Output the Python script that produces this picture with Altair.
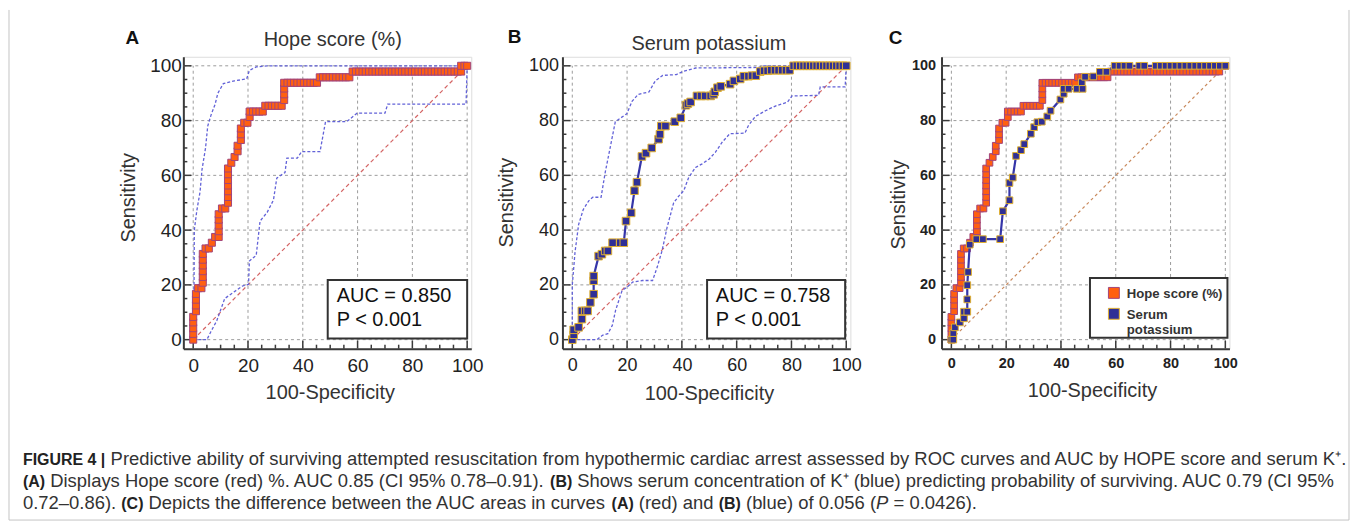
import altair as alt
import pandas as pd

FONT = "Liberation Sans, Arial, Helvetica, sans-serif"

# ---------------- data ----------------
grid_vals = [0, 20, 40, 60, 80, 100]
minor_vals = [5, 10, 15, 25, 30, 35, 45, 50, 55, 65, 70, 75, 85, 90, 95]
diag_vals = [0, 100]

# Hope score ROC (panels A and C)
hope_x = [0, 0, 0, 0, 0,
          1, 1, 1, 1,
          1.8, 3,
          3.5, 3.5, 3.5, 3.5, 3.5, 3.5,
          4.5, 5.7,
          6.8, 8,
          9.3, 9.3, 9.3, 9.3, 9.3,
          10.5, 11.7,
          12.7, 12.7, 12.7, 12.7, 12.7, 12.7, 12.7,
          13.9, 15.1,
          16.2, 16.2,
          17.4, 17.4, 17.4,
          18.6, 19.8,
          20.6, 20.6,
          21.8, 23, 24.2, 25.4,
          26.3, 27.5, 28.7, 29.9, 31.1, 32.3,
          33.2, 33.2, 33.2, 33.2,
          34.4, 35.6, 36.8, 38, 39.2, 40.4, 41.6, 42.8, 44, 45.2,
          46.2, 47.4, 48.6, 49.8, 51, 52.2, 53.4, 54.6, 55.8, 57,
          58.2, 59.4, 60.6, 61.8, 63, 64.2, 65.4, 66.6, 67.8, 69, 70.2, 71.4,
          72.6, 73.8, 75, 76.2, 77.4, 78.6, 79.8, 81, 82.2, 83.4, 84.6, 85.8,
          87, 88.2, 89.4, 90.6, 91.8, 93, 94.2, 95.4, 96.6, 97.8,
          97.8, 99, 100]
hope_y = [0, 2.1, 4.2, 6.3, 8.3,
          10.4, 12.5, 14.6, 16.7,
          18.8, 18.8,
          20.8, 22.9, 25, 27.1, 29.2, 31.3,
          33.3, 33.3,
          35.4, 37.5,
          37.5, 39.6, 41.7, 43.8, 45.8,
          47.9, 47.9,
          50, 52.1, 54.2, 56.3, 58.3, 60.4, 62.5,
          64.6, 66.7,
          68.8, 70.8,
          72.9, 75, 77.1,
          79.2, 79.2,
          81.3, 83.3,
          83.3, 83.3, 83.3, 83.3,
          85.4, 85.4, 85.4, 85.4, 85.4, 85.4,
          87.5, 89.6, 91.7, 93.8,
          93.8, 93.8, 93.8, 93.8, 93.8, 93.8, 93.8, 93.8, 93.8, 93.8,
          95.8, 95.8, 95.8, 95.8, 95.8, 95.8, 95.8, 95.8, 95.8, 95.8,
          97.9, 97.9, 97.9, 97.9, 97.9, 97.9, 97.9, 97.9, 97.9, 97.9, 97.9, 97.9,
          97.9, 97.9, 97.9, 97.9, 97.9, 97.9, 97.9, 97.9, 97.9, 97.9, 97.9, 97.9,
          97.9, 97.9, 97.9, 97.9, 97.9, 97.9, 97.9, 97.9, 97.9, 97.9,
          100, 100, 100]

# Serum potassium ROC (panel B)
kb_x = [0, 0.5, 0.5, 2.3, 3.5, 3.5, 4.7, 5.6, 6.6, 7.8, 7.8, 7.8, 9.6, 10.8, 12, 13,
        14.7, 17.5, 18.8, 19.6, 21.5, 22.7, 23.6, 25.4, 26.9, 29, 31.5, 32, 32.5, 34,
        37.4, 39.6, 41.5, 42.2, 43.2, 45.5, 47, 48.5, 50.5, 51.6, 52, 53, 54.2, 57.6,
        59, 61.3, 62.6, 64.3, 65.6, 67, 68.6, 70, 71.3, 72.6, 74, 75.3, 76.6, 78, 79.3,
        80.8, 82, 83.2, 84.4, 85.6, 86.8, 88, 89.2, 90.4, 91.6, 92.8, 94, 95.2, 96.4,
        97.6, 98.8, 100]
kb_y = [0, 1.8, 3.6, 4.5, 7.5, 10.5, 10.5, 10.5, 13.6, 16.6, 21.5, 23.2, 30.5, 31.2, 32.4, 32.4,
        35.4, 35.4, 35.4, 43.3, 46.3, 54.4, 57.5, 66.9, 68.1, 70, 73.2, 75, 78, 78,
        79.6, 81, 85.6, 86.2, 86.8, 89, 89, 89, 89, 89.6, 90.5, 92, 92.5, 93.3,
        94.5, 95.2, 96.2, 96.2, 96.4, 96.4, 97.9, 98.2, 98.2, 98.4, 98.4, 98.4, 98.4, 98.4, 98.4,
        100, 100, 100, 100, 100, 100, 100, 100, 100, 100, 100, 100, 100, 100,
        100, 100, 100]

# Serum potassium ROC (panel C)
kc_x = [0, 0.7, 0.7, 1.3, 3.1, 4.6, 4.6, 5.8, 5.8, 5.8, 6.1, 6.7, 9.1, 11.5, 17.8,
        18.8, 21.2, 21.2, 22.4, 23.6, 25.4, 26.6, 29, 30.2, 31.4, 33, 35, 36.2,
        39.8, 41, 41, 42.8, 45.8, 47.9, 47.6, 48.8, 51.8, 54.2, 56.6, 59.6,
        61.4, 63.2, 65, 68.6, 70.4, 74.6, 76.4, 78.2, 80, 81.8, 83.6, 85.4, 87.2,
        89, 90.8, 92.6, 94.4, 96.2, 98, 100]
kc_y = [0, 0, 2.4, 4.5, 6.3, 7.8, 10.2, 10.2, 14.7, 19.9, 24.7, 34.7, 36.7, 36.7, 36.7,
        46.9, 50.9, 57.2, 59.2, 67.1, 69.2, 71.4, 75.2, 77.6, 79.4, 79.6, 81.5, 83.6,
        87.7, 89.8, 91.6, 91.6, 91.6, 91.6, 94, 96, 96.1, 97.8, 97.8, 100,
        100, 100, 100, 100, 100, 100, 100, 100, 100, 100, 100, 100, 100,
        100, 100, 100, 100, 100, 100, 100]

# 95% confidence bounds, panel A
a_up_x = [0, 0.3, 0.4, 1.3, 2.5, 3.2, 4.5, 5.3, 6.5, 8, 9, 11, 15, 19.5, 20.5, 23, 27, 100]
a_up_y = [0, 20, 40, 47, 54, 62, 70, 78, 82, 86, 90, 93.5, 94.5, 95.2, 98.3, 99.6, 100, 100]
a_lo_x = [0, 5, 6.5, 8.6, 11.5, 15, 18, 20.2, 20.5, 23, 24.4, 27, 29.3, 30.5, 33.5, 34.2,
          38, 39.6, 46.3, 48.3, 56, 59.8, 70, 71, 99.6, 100]
a_lo_y = [0, 0, 3, 6.9, 15, 17.5, 19.6, 20.2, 28.7, 30.8, 43.3, 46.5, 51, 59, 61, 66.3,
          66.3, 68.7, 68.7, 79.6, 79.6, 82.7, 82.7, 86, 86, 100]

# 95% confidence bounds, panel B
b_up_x = [0, 0, 1, 2.3, 4, 6, 7.5, 10.5, 12, 14, 15.7, 19.9, 21.8, 24, 28, 30.3, 33,
          38, 40.5, 45, 68, 70, 100]
b_up_y = [0, 20, 32, 42, 47.5, 50.7, 52, 52, 61, 71, 79.6, 82.5, 87, 89.5, 90.5, 94.5,
          96.5, 96.8, 98, 99.2, 99.4, 100, 100]
b_lo_x = [0, 9, 11, 13, 14.6, 15.8, 18.2, 20, 22, 25.5, 29.3, 31, 32.8, 34.6, 37, 39,
          40.7, 42.5, 45, 47.4, 50, 52.2, 54.7, 57.5, 63, 64.3, 66.8, 70.5, 74.3, 78.5,
          80.2, 89.9, 90.5, 99.6, 100]
b_lo_y = [0, 0, 1.6, 2.2, 5.2, 10.7, 18, 19.2, 21, 21.6, 21.6, 26.5, 32.6, 41, 50, 52.6,
          54.4, 59.3, 62.9, 64.2, 66, 68.4, 72.1, 75.2, 75.4, 78.2, 81.5, 83.6, 85.4, 86.7,
          89, 89.2, 92.3, 92.3, 100]

panel_titles = ["Hope score (%)", "Serum potassium"]
panel_letters = ["A", "B", "C"]
auc_a = ["AUC = 0.850", "P < 0.001"]
auc_b = ["AUC = 0.758", "P < 0.001"]
legend_labels = ["Hope score (%)", "Serum", "potassium"]

# caption lines: list of (style, text) runs
caption_lines = [
    [("b", "FIGURE 4 |"),
     ("n", "Predictive ability of surviving attempted resuscitation from hypothermic cardiac arrest assessed by ROC curves and AUC by HOPE score and serum K\u207a.")],
    [("b", "(A)"), ("n", "Displays Hope score (red) %. AUC 0.85 (CI 95% 0.78\u20130.91)."),
     ("b", "(B)"), ("n", "Shows serum concentration of K\u207a (blue) predicting probability of surviving. AUC 0.79 (CI 95%")],
    [("n", "0.72\u20130.86)."), ("b", "(C)"), ("n", "Depicts the difference between the AUC areas in curves"),
     ("b", "(A)"), ("n", "(red) and"), ("b", "(B)"), ("n", "(blue) of 0.056 ("), ("i", "P"),
     ("n", "= 0.0426).")],
]
caption_baselines = [465, 487, 509]

# ---------------- layout constants ----------------
W, H = 289, 293
VIEW_LEFT, VIEW_TOP = 183, 55          # page position of panel A's plot area
XMIN, XMAX = -3.6, 101.5
YMIN, YMAX = -3.3, 103.3
XS = alt.Scale(domain=[XMIN, XMAX], nice=False, zero=False)
YS = alt.Scale(domain=[YMIN, YMAX], nice=False, zero=False)

ORANGE = "#ff5f10"
ORANGE_EDGE = "#a3447a"
NAVY = "#2f2f96"
NAVY_EDGE = "#e0b030"
NAVY_LINE = "#3535a8"
CI_BLUE = "#6262d8"
AXIS_DARK = "#3a3a3a"
CAP_N = 18.5    # normal caption size
CAP_B = 16.0    # bold caption size

# Arial / Liberation Sans advance widths (per 1000 em) for laying out caption runs
_W_N = {" ": 278, "(": 333, ")": 333, ".": 278, ",": 278, "%": 889, "=": 584, "-": 333,
        "\u2013": 556, "|": 260, "\u207a": 400}
_W_N.update({c: 556 for c in "0123456789"})
_W_N.update(dict(zip("ABCDEFGHIJKLMNOPQRSTUVWXYZ",
                     [667, 667, 722, 722, 667, 611, 778, 722, 278, 500, 667, 556, 833, 722, 778,
                      667, 778, 722, 667, 611, 722, 667, 944, 667, 667, 611])))
_W_N.update(dict(zip("abcdefghijklmnopqrstuvwxyz",
                     [556, 556, 500, 556, 556, 278, 556, 556, 222, 222, 500, 222, 833, 556, 556,
                      556, 556, 333, 500, 278, 556, 500, 722, 500, 500, 500])))
_W_B = {" ": 278, "(": 333, ")": 333, "|": 280, "4": 556, "A": 722, "B": 722, "C": 722,
        "E": 667, "F": 611, "G": 778, "I": 278, "R": 722, "U": 722}


def text_w(s, style):
    table = _W_B if style == "b" else _W_N
    size = CAP_B if style == "b" else CAP_N
    return sum(table.get(c, 556) for c in s) / 1000.0 * size


def caption_segments():
    segs = []
    for li, runs in enumerate(caption_lines):
        x = 22.0
        for ri, (st, tx) in enumerate(runs):
            if li == 0 and ri == 1:
                x = 110.0
            segs.append((st, tx, x, caption_baselines[li]))
            x += text_w(tx, st)
            nxt = runs[ri + 1] if ri + 1 < len(runs) else None
            if nxt is not None and not (st == "n" and tx.endswith("(")):
                x += 0.278 * CAP_N
    return segs


def caption_layers():
    frame = pd.DataFrame({"k": [0]})
    fstyle = dict(color="#c4c4c4", strokeWidth=1)
    l, r, t, b = 8 - VIEW_LEFT, 1353 - VIEW_LEFT, 8 - VIEW_TOP, 520 - VIEW_TOP
    out = [
        alt.Chart(frame).mark_rule(**fstyle).encode(x=alt.value(l), y=alt.value(t), y2=alt.value(b)),
        alt.Chart(frame).mark_rule(**fstyle).encode(x=alt.value(r), y=alt.value(t), y2=alt.value(b)),
        alt.Chart(frame).mark_rule(**fstyle).encode(x=alt.value(l), x2=alt.value(r), y=alt.value(b)),
    ]
    for st, tx, x, y in caption_segments():
        kw = dict(fontSize=CAP_N, color="#333")
        if st == "b":
            kw = dict(fontSize=CAP_B, fontWeight="bold", color="#222")
        elif st == "i":
            kw = dict(fontSize=CAP_N, fontStyle="italic", color="#333")
        out.append(alt.Chart(pd.DataFrame({"t": [tx]})).mark_text(
            align="left", baseline="alphabetic", font=FONT, **kw).encode(
            x=alt.value(x - VIEW_LEFT), y=alt.value(y - VIEW_TOP), text="t:N"))
    return out


def make_panel(rocs, cis, diag_color, diag_dash, label_size, label_weight, label_pad_y,
               ytitle_x, ytitle_y, xtitle_x, xtitle_y, xlabel_pad, letter, letter_xy,
               sq_size, title=None, title_xy=None, auc=None, auc_box=None, legend=False,
               extra=None):
    x_axis = alt.Axis(values=grid_vals, title="100-Specificity", grid=False, ticks=False,
                      tickSize=0, domainColor=AXIS_DARK, domainWidth=2,
                      labelFont=FONT, labelFontSize=label_size, labelFontWeight=label_weight,
                      labelColor="#222", labelPadding=xlabel_pad, labelFlush=False,
                      labelOverlap=False, titleFont=FONT, titleFontSize=20,
                      titleFontWeight="normal", titleColor="#333", titleX=xtitle_x,
                      titleY=xtitle_y, titleAlign="center", titleBaseline="alphabetic")
    y_axis = alt.Axis(values=grid_vals, title="Sensitivity", grid=False, ticks=False,
                      tickSize=0, domainColor=AXIS_DARK, domainWidth=2,
                      labelFont=FONT, labelFontSize=label_size, labelFontWeight=label_weight,
                      labelColor="#222", labelPadding=label_pad_y, labelFlush=False,
                      labelOverlap=False, titleFont=FONT, titleFontSize=20,
                      titleFontWeight="normal", titleColor="#333", titleX=ytitle_x,
                      titleY=ytitle_y, titleAngle=270, titleAlign="center",
                      titleBaseline="middle")

    def X(f):
        return alt.X(f, scale=XS, axis=x_axis)

    def Y(f):
        return alt.Y(f, scale=YS, axis=y_axis)

    vgrid = pd.DataFrame({"g": grid_vals, "lo": [YMIN] * len(grid_vals), "hi": [100] * len(grid_vals)})
    hgrid = pd.DataFrame({"g": grid_vals, "lo": [XMIN] * len(grid_vals), "hi": [100] * len(grid_vals)})
    gstyle = dict(color="#9c9c9c", strokeDash=[3, 3], strokeWidth=1)
    layers = [
        alt.Chart(vgrid).mark_rule(**gstyle).encode(x=X("g:Q"), y=Y("lo:Q"), y2="hi:Q"),
        alt.Chart(hgrid).mark_rule(**gstyle).encode(y=Y("g:Q"), x=X("lo:Q"), x2="hi:Q"),
    ]
    tk = dict(color=AXIS_DARK, strokeWidth=1.5)
    major = pd.DataFrame({"v": grid_vals})
    minor = pd.DataFrame({"v": minor_vals})
    layers += [
        alt.Chart(major).mark_rule(**tk).encode(y=Y("v:Q"), x=alt.value(0), x2=alt.value(8)),
        alt.Chart(minor).mark_rule(**tk).encode(y=Y("v:Q"), x=alt.value(0), x2=alt.value(4)),
        alt.Chart(major).mark_rule(**tk).encode(x=X("v:Q"), y=alt.value(H), y2=alt.value(H - 8)),
        alt.Chart(minor).mark_rule(**tk).encode(x=X("v:Q"), y=alt.value(H), y2=alt.value(H - 4)),
    ]
    ddf = pd.DataFrame({"d": diag_vals})
    layers.append(alt.Chart(ddf).mark_line(color=diag_color, strokeDash=diag_dash,
                                           strokeWidth=1.2).encode(x=X("d:Q"), y=Y("d:Q")))
    for cx, cy in cis:
        cdf = pd.DataFrame({"x": cx, "y": cy, "i": list(range(len(cx)))})
        layers.append(alt.Chart(cdf).mark_line(color=CI_BLUE, strokeDash=[3, 2],
                                               strokeWidth=1.3).encode(
            x=X("x:Q"), y=Y("y:Q"), order="i:Q"))
    for (rx, ry, fill, edge, line) in rocs:
        d = pd.DataFrame({"x": rx, "y": ry, "i": list(range(len(rx)))})
        layers.append(alt.Chart(d).mark_line(color=line, strokeWidth=2.2).encode(
            x=X("x:Q"), y=Y("y:Q"), order="i:Q"))
        layers.append(alt.Chart(d).mark_square(size=sq_size, filled=True, fill=fill, stroke=edge,
                                               strokeWidth=1, opacity=1).encode(
            x=X("x:Q"), y=Y("y:Q")))
    if auc is not None:
        bx = pd.DataFrame({"x1": [auc_box[0]], "x2": [auc_box[1]], "y1": [auc_box[2]], "y2": [auc_box[3]]})
        layers.append(alt.Chart(bx).mark_rect(fill="white", stroke="#333", strokeWidth=2).encode(
            x=X("x1:Q"), x2="x2:Q", y=Y("y1:Q"), y2="y2:Q"))
        tdf = pd.DataFrame({"t": auc, "tx": [52.4, 52.4], "ty": [13.6, 5.1]})
        layers.append(alt.Chart(tdf).mark_text(align="left", baseline="alphabetic", font=FONT,
                                               fontSize=20, color="#111").encode(
            x=X("tx:Q"), y=Y("ty:Q"), text="t:N"))
    if legend:
        layers.append(alt.Chart(pd.DataFrame({"k": [0]})).mark_rect(
            fill="white", stroke="#333", strokeWidth=2).encode(
            x=alt.value(149), x2=alt.value(287), y=alt.value(222), y2=alt.value(282)))
        for fill, edge, py in [(ORANGE, ORANGE_EDGE, 237), (NAVY, NAVY_EDGE, 258)]:
            layers.append(alt.Chart(pd.DataFrame({"k": [0]})).mark_square(
                size=120, filled=True, fill=fill, stroke=edge, strokeWidth=1, opacity=1).encode(
                x=alt.value(173), y=alt.value(py)))
        for lab, py in zip(legend_labels, [242, 263, 278]):
            layers.append(alt.Chart(pd.DataFrame({"t": [lab]})).mark_text(
                align="left", baseline="alphabetic", font=FONT, fontSize=13.2,
                fontWeight="bold", color="#333").encode(
                x=alt.value(186), y=alt.value(py), text="t:N"))
    if title is not None:
        layers.append(alt.Chart(pd.DataFrame({"t": [title]})).mark_text(
            align="center", baseline="alphabetic", font=FONT, fontSize=20, color="#333").encode(
            x=alt.value(title_xy[0]), y=alt.value(title_xy[1]), text="t:N"))
    layers.append(alt.Chart(pd.DataFrame({"t": [letter]})).mark_text(
        align="left", baseline="alphabetic", font=FONT, fontSize=19, fontWeight="bold",
        color="#111").encode(x=alt.value(letter_xy[0]), y=alt.value(letter_xy[1]), text="t:N"))
    if extra:
        layers += extra
    return alt.layer(*layers).properties(width=W, height=H)


panel_a = make_panel(
    rocs=[(hope_x, hope_y, ORANGE, ORANGE_EDGE, ORANGE)],
    cis=[(a_up_x, a_up_y), (a_lo_x, a_lo_y)],
    diag_color="#d46464", diag_dash=[4, 3], label_size=19, label_weight="normal",
    label_pad_y=2, ytitle_x=-55, ytitle_y=141, xtitle_x=147, xtitle_y=50, xlabel_pad=8,
    letter=panel_letters[0], letter_xy=(-58, -13), sq_size=50,
    title=panel_titles[0], title_xy=(150, -11),
    auc=auc_a, auc_box=(49.1, 100, 0.4, 21.8), extra=caption_layers())

panel_b = make_panel(
    rocs=[(kb_x, kb_y, NAVY, NAVY_EDGE, NAVY_LINE)],
    cis=[(b_up_x, b_up_y), (b_lo_x, b_lo_y)],
    diag_color="#d46464", diag_dash=[4, 3], label_size=18, label_weight="normal",
    label_pad_y=4, ytitle_x=-56, ytitle_y=146, xtitle_x=147, xtitle_y=51, xlabel_pad=8,
    letter=panel_letters[1], letter_xy=(-55, -14), sq_size=58,
    title=panel_titles[1], title_xy=(147, -7),
    auc=auc_b, auc_box=(49.2, 99.6, 0.4, 21.8))

panel_c = make_panel(
    rocs=[(hope_x, hope_y, ORANGE, ORANGE_EDGE, ORANGE), (kc_x, kc_y, NAVY, NAVY_EDGE, NAVY_LINE)],
    cis=[], diag_color="#c98a5e", diag_dash=[3, 3], label_size=14.5, label_weight="bold",
    label_pad_y=6, ytitle_x=-43, ytitle_y=148, xtitle_x=151, xtitle_y=48, xlabel_pad=8,
    letter=panel_letters[2], letter_xy=(-53, -13), sq_size=45, legend=True)

chart = alt.hconcat(panel_a, panel_b, panel_c, spacing=91.5, bounds="flush").properties(
    padding={"left": 0, "top": 0, "right": 0, "bottom": 0}
).configure_view(stroke=None).configure(background="white")

chart.save("out.html", embed_options={"renderer": "svg", "actions": False})
